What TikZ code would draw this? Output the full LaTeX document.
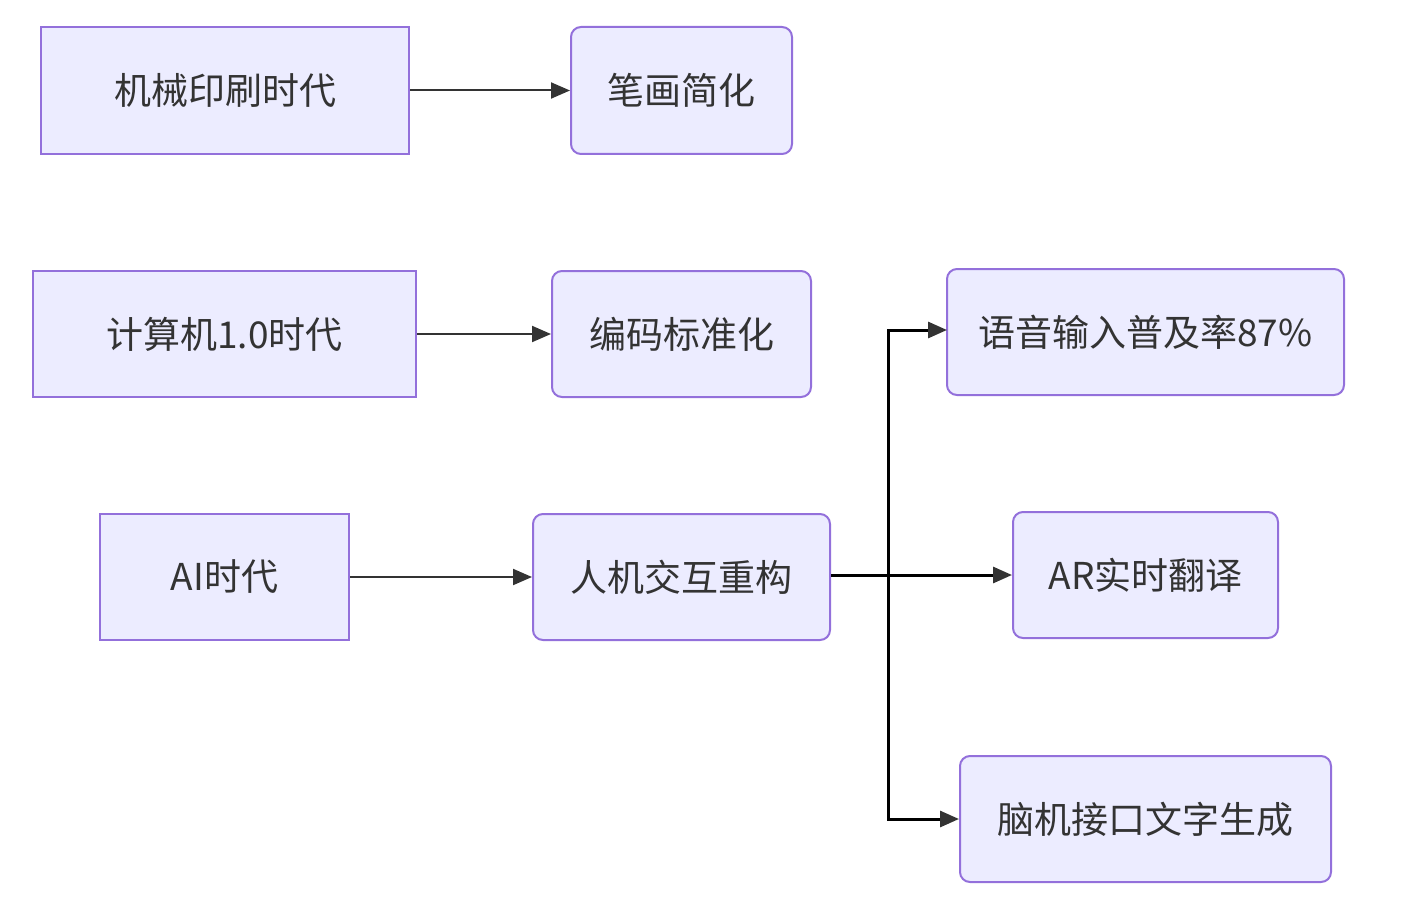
\documentclass[tikz,border=0pt]{standalone}
\usepackage{fontspec}
\setmainfont{Noto Sans CJK SC}
\usetikzlibrary{arrows.meta}
\definecolor{nodefill}{HTML}{ECECFF}
\definecolor{nodeborder}{HTML}{9370DB}
\definecolor{txt}{HTML}{333333}
\begin{document}
\begin{tikzpicture}[x=1pt,y=-1pt,
  box/.style={draw=nodeborder, fill=nodefill, line width=2pt, text=txt, inner sep=0pt,
    font=\fontsize{37}{44}\selectfont},
  rbox/.style={box, rounded corners=10pt},
  link/.style={draw=txt, line width=2pt, -{Triangle[length=19pt,width=16pt]}},
  blink/.style={draw=black, line width=3pt, -{Triangle[length=19pt,width=16pt,color=txt]}}]
\useasboundingbox (0,0) rectangle (1404,904);
\node[box, minimum width=368pt, minimum height=127pt] (A) at (225,90.5) {机械印刷时代};
\node[rbox, minimum width=221pt, minimum height=127pt] (B) at (681.5,90.5) {笔画简化};
\node[box, minimum width=383pt, minimum height=126pt] (C) at (224.5,334) {计算机1.0时代};
\node[rbox, minimum width=259pt, minimum height=126pt] (D) at (681.5,334) {编码标准化};
\node[box, minimum width=249pt, minimum height=126pt] (E) at (224.5,577) {AI时代};
\node[rbox, minimum width=297pt, minimum height=126pt] (F) at (681.5,577) {人机交互重构};
\node[rbox, minimum width=397pt, minimum height=126pt] (G) at (1145.5,332) {语音输入普及率87\%};
\node[rbox, minimum width=265pt, minimum height=126pt] (H) at (1145.5,575) {AR实时翻译};
\node[rbox, minimum width=371pt, minimum height=126pt] (I) at (1145.5,819) {脑机接口文字生成};
\draw[link] (A) -- (B);
\draw[link] (C) -- (D);
\draw[link] (E) -- (F);
\coordinate (j) at (888,575);
\coordinate (gin) at (947,330);
\draw[draw=black, line width=3pt] (F.east |- j) -- (j);
\draw[blink] (j) |- (gin);
\draw[blink] (j) -- (H.west);
\draw[blink] (j) |- (I.west);
\end{tikzpicture}
\end{document}
